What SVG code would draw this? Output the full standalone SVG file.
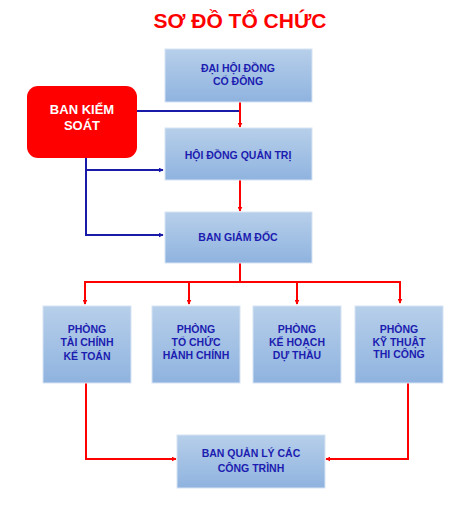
<svg xmlns="http://www.w3.org/2000/svg" width="467" height="512" viewBox="0 0 467 512">
<defs>
<linearGradient id="g" x1="0" y1="0" x2="0" y2="1">
<stop offset="0" stop-color="#b7cfea"/>
<stop offset="1" stop-color="#8fb3df"/>
</linearGradient>
<marker id="ar" viewBox="0 0 8 8" refX="7" refY="4" markerWidth="5" markerHeight="5" markerUnits="userSpaceOnUse" orient="auto"><path d="M0,0 L8,4 L0,8 z" fill="#ff0000"/></marker>
<marker id="ab" viewBox="0 0 8 8" refX="7" refY="4" markerWidth="5" markerHeight="5" markerUnits="userSpaceOnUse" orient="auto"><path d="M0,0 L8,4 L0,8 z" fill="#1a1aa8"/></marker>
</defs>
<style>
.box{fill:url(#g);stroke:#d6e3f3;stroke-width:1}
.t{font-family:"Liberation Sans",Arial,sans-serif;font-weight:bold;font-size:10.5px;fill:#1c1cb0;text-anchor:middle}
.r{fill:none;stroke:#ff0000;stroke-width:2}
.b{fill:none;stroke:#1a1aa8;stroke-width:2}
</style>
<rect width="467" height="512" fill="#ffffff"/>
<text x="240" y="28" font-family="Liberation Sans,Arial,sans-serif" font-weight="bold" font-size="21" fill="#ff0000" text-anchor="middle">SƠ ĐỒ TỔ CHỨC</text>
<g id="connectors">
<path class="b" d="M137,111 H240"/>
<path class="b" d="M86,158 V235 H163" marker-end="url(#ab)"/>
<path class="b" d="M86,170 H163" marker-end="url(#ab)"/>
<path class="r" d="M240,102 V127" marker-end="url(#ar)"/>
<path class="r" d="M240,180 V211" marker-end="url(#ar)"/>
<path class="r" d="M240,263 V282"/>
<path class="r" d="M85,303 V282 H400 V303" marker-end="url(#ar)"/>
<path class="r" d="M85,282 V304" marker-end="url(#ar)"/>
<path class="r" d="M189,282 V304" marker-end="url(#ar)"/>
<path class="r" d="M297,282 V304" marker-end="url(#ar)"/>
<path class="r" d="M86,383 V459 H176" marker-end="url(#ar)"/>
<path class="r" d="M408,383 V459 H326" marker-end="url(#ar)"/>
</g>
<g id="dhdcd"><rect class="box" x="165" y="49" width="147" height="53"/><text class="t" x="238" y="72">ĐẠI HỘI ĐỒNG</text><text class="t" x="238" y="85">CỔ ĐÔNG</text></g>
<g id="bks"><rect x="27" y="86" width="110" height="72" rx="11" fill="#ff0000"/><text x="82" y="114" font-family="Liberation Sans,Arial,sans-serif" font-weight="bold" font-size="13" fill="#ffffff" text-anchor="middle">BAN KIỂM</text><text x="82" y="130" font-family="Liberation Sans,Arial,sans-serif" font-weight="bold" font-size="13" fill="#ffffff" text-anchor="middle">SOÁT</text></g>
<g id="hdqt"><rect class="box" x="165" y="128" width="147" height="52"/><text class="t" x="238" y="159">HỘI ĐỒNG QUẢN TRỊ</text></g>
<g id="bgd"><rect class="box" x="165" y="212" width="147" height="51"/><text class="t" x="238" y="241">BAN GIÁM ĐỐC</text></g>
<g id="p1"><rect class="box" x="43" y="306" width="88" height="77"/><text class="t" x="87" y="333">PHÒNG</text><text class="t" x="87" y="346">TÀI CHÍNH</text><text class="t" x="87" y="360">KẾ TOÁN</text></g>
<g id="p2"><rect class="box" x="152" y="306" width="88" height="77"/><text class="t" x="196" y="333">PHÒNG</text><text class="t" x="196" y="346">TỔ CHỨC</text><text class="t" x="196" y="359">HÀNH CHÍNH</text></g>
<g id="p3"><rect class="box" x="253" y="306" width="88" height="77"/><text class="t" x="297" y="333">PHÒNG</text><text class="t" x="297" y="346">KẾ HOẠCH</text><text class="t" x="297" y="359">DỰ THẦU</text></g>
<g id="p4"><rect class="box" x="355" y="306" width="88" height="77"/><text class="t" x="399" y="333">PHÒNG</text><text class="t" x="399" y="346">KỸ THUẬT</text><text class="t" x="399" y="358">THI CÔNG</text></g>
<g id="bql"><rect class="box" x="177" y="435" width="148" height="53"/><text class="t" x="251" y="457">BAN QUẢN LÝ CÁC</text><text class="t" x="251" y="472">CÔNG TRÌNH</text></g>
</svg>
